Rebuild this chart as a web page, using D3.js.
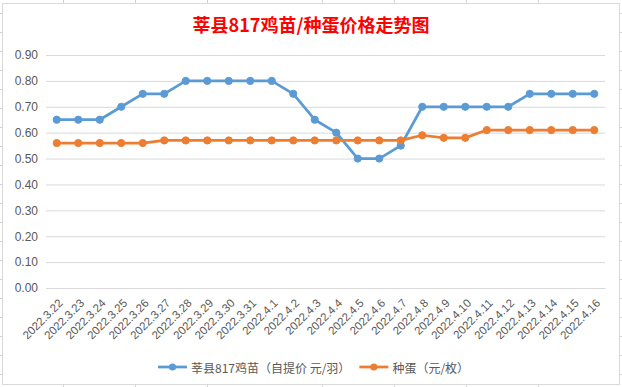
<!DOCTYPE html>
<html>
<head>
<meta charset="utf-8">
<script src="https://cdn.jsdelivr.net/npm/d3@7"></script>
<style>
html,body{margin:0;padding:0;background:#fff;}
svg{display:block;}
</style>
</head>
<body>
<svg id="chart" width="622" height="387"></svg>
<script>
const categories = ["2022.3.22","2022.3.23","2022.3.24","2022.3.25","2022.3.26","2022.3.27","2022.3.28","2022.3.29","2022.3.30","2022.3.31","2022.4.1","2022.4.2","2022.4.3","2022.4.4","2022.4.5","2022.4.6","2022.4.7","2022.4.8","2022.4.9","2022.4.10","2022.4.11","2022.4.12","2022.4.13","2022.4.14","2022.4.15","2022.4.16"];
const chickValues = [0.65,0.65,0.65,0.70,0.75,0.75,0.80,0.80,0.80,0.80,0.80,0.75,0.65,0.60,0.50,0.50,0.55,0.70,0.70,0.70,0.70,0.70,0.75,0.75,0.75,0.75];
const eggValues = [0.56,0.56,0.56,0.56,0.56,0.57,0.57,0.57,0.57,0.57,0.57,0.57,0.57,0.57,0.57,0.57,0.57,0.59,0.58,0.58,0.61,0.61,0.61,0.61,0.61,0.61];
const yTicks = [0,0.1,0.2,0.3,0.4,0.5,0.6,0.7,0.8,0.9];
const titleText = "莘县817鸡苗/种蛋价格走势图";
const seriesNames = ["莘县817鸡苗（自提价 元/羽）","种蛋（元/枚）"];
const seriesColors = ["#5B9BD5","#ED7D31"];

const svg = d3.select("#chart");
const W = 622, H = 387;
const cjk = "'Noto Sans CJK SC', 'Noto Sans', sans-serif";
const num = "'Liberation Sans', 'Noto Sans', sans-serif";

// spreadsheet stubs outside the chart frame
const stubs = svg.append("g").attr("stroke","#d4d4d4").attr("stroke-width",1);
for (let y = 13; y < H; y += 19) {
  stubs.append("line").attr("x1",0).attr("x2",2).attr("y1",y+0.5).attr("y2",y+0.5);
  stubs.append("line").attr("x1",620).attr("x2",622).attr("y1",y+0.5).attr("y2",y+0.5);
}
[63,135,207,322,394,466,538].forEach(x=>{
  stubs.append("line").attr("x1",x+0.5).attr("x2",x+0.5).attr("y1",0).attr("y2",3);
  stubs.append("line").attr("x1",x+0.5).attr("x2",x+0.5).attr("y1",385).attr("y2",387);
});
// chart frame
svg.append("rect").attr("x",2.5).attr("y",3.5).attr("width",617).attr("height",381)
  .attr("fill","#fff").attr("stroke","#d9d9d9").attr("stroke-width",1);

const x = d3.scaleBand().domain(categories).range([46,605]).padding(0);
const y = d3.scaleLinear().domain([0,0.9]).range([288,55]);

// gridlines + y labels
const yAxis = d3.axisLeft(y).tickValues(yTicks).tickSize(-(605-46)).tickFormat(d3.format(".2f")).tickPadding(8);
const gy = svg.append("g").attr("transform","translate(46,0)").call(yAxis);
gy.select(".domain").remove();
gy.selectAll(".tick line").attr("stroke","#d9d9d9").attr("stroke-width",1);
gy.selectAll(".tick text").attr("fill","#595959").attr("font-family",num).attr("font-size","12px");

// x axis labels
const xAxis = d3.axisBottom(x).tickSize(0).tickPadding(0);
const gx = svg.append("g").attr("transform","translate(0,288)").call(xAxis);
gx.select(".domain").attr("stroke","#d9d9d9");
gx.selectAll(".tick text")
  .attr("fill","#595959").attr("font-family",num).attr("font-size","11.5px")
  .attr("text-anchor","end").attr("dy",null).attr("y",null)
  .attr("dominant-baseline","central")
  .attr("transform","translate(4,13) rotate(-45)");

// lines
const line = d3.line().x((d,i)=>x(categories[i])+x.bandwidth()/2).y(d=>y(d));
[chickValues, eggValues].forEach((vals,si)=>{
  svg.append("path").datum(vals).attr("d",line).attr("fill","none")
    .attr("stroke",seriesColors[si]).attr("stroke-width",2.75).attr("stroke-linejoin","round");
  svg.append("g").selectAll("circle").data(vals).join("circle")
    .attr("cx",(d,i)=>x(categories[i])+x.bandwidth()/2).attr("cy",d=>y(d))
    .attr("r",3.6).attr("fill",seriesColors[si]).attr("stroke",seriesColors[si]).attr("stroke-width",1);
});

// title
svg.append("text").attr("x",311).attr("y",24).attr("text-anchor","middle")
  .attr("dominant-baseline","central")
  .attr("font-family",cjk).attr("font-weight","bold").attr("font-size","18px")
  .attr("fill","#ff0000").text(titleText);

// legend
const lg = svg.append("g");
let lx = 158;
seriesNames.forEach((name,i)=>{
  const cy = 367;
  lg.append("line").attr("x1",lx).attr("x2",lx+29).attr("y1",cy).attr("y2",cy)
    .attr("stroke",seriesColors[i]).attr("stroke-width",2.75);
  lg.append("circle").attr("cx",lx+14.5).attr("cy",cy).attr("r",3.6).attr("fill",seriesColors[i]);
  const t = lg.append("text").attr("x",lx+33).attr("y",cy).attr("dominant-baseline","central")
    .attr("font-family",cjk).attr("font-size","12px").attr("fill","#595959").text(name);
  lx = lx + 33 + t.node().getComputedTextLength() + 9;
});
</script>
</body>
</html>
